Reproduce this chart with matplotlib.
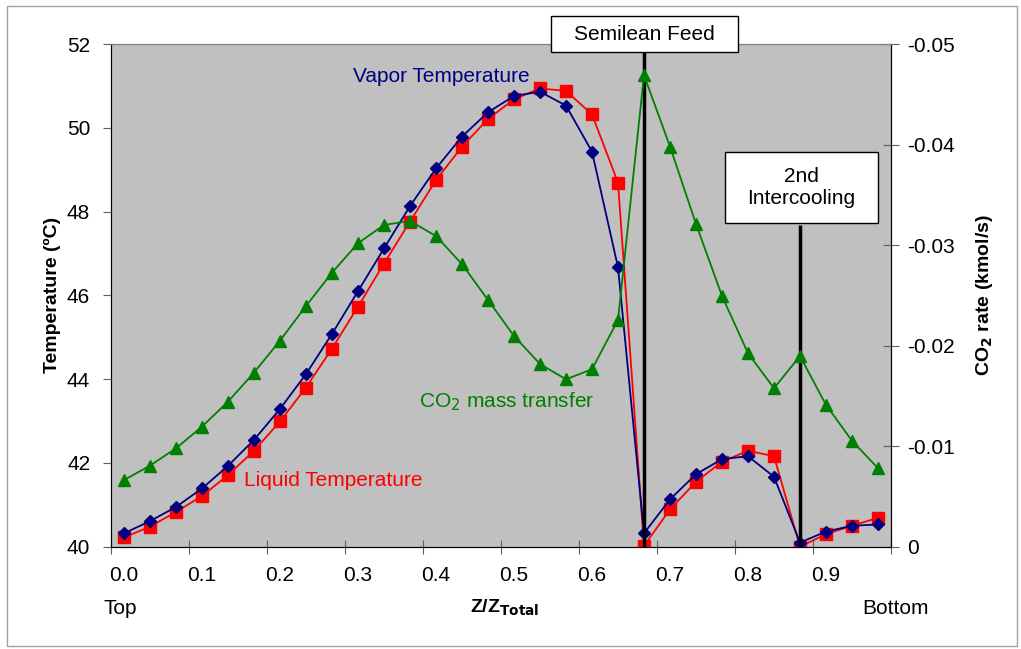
import matplotlib
matplotlib.use("Agg")
import matplotlib.pyplot as plt
from matplotlib.patches import Rectangle
import numpy as np

plt.rcParams["font.family"] = ["Liberation Sans", "DejaVu Sans"]

# stage index along the column (30 stages, Z/Ztotal = i/30)
stage = np.arange(30)
z = stage / 30.0

vapor_T = [40.32, 40.61, 40.95, 41.39, 41.93, 42.55, 43.29, 44.12, 45.08, 46.10,
           47.12, 48.13, 49.03, 49.79, 50.37, 50.76, 50.86, 50.53, 49.43, 46.67,
           40.32, 41.13, 41.73, 42.09, 42.16, 41.67, 40.10, 40.36, 40.50, 40.53]
liquid_T = [40.22, 40.48, 40.83, 41.21, 41.71, 42.29, 42.99, 43.80, 44.73, 45.73,
            46.76, 47.76, 48.75, 49.55, 50.21, 50.68, 50.94, 50.88, 50.32, 48.69,
            40.02, 40.89, 41.55, 42.03, 42.29, 42.16, 40.00, 40.30, 40.50, 40.69]
co2_rate = [-0.00663, -0.00806, -0.00979, -0.01194, -0.01443, -0.01731, -0.0205, -0.02394,
            -0.02726, -0.03018, -0.0320, -0.0324, -0.0309, -0.0281, -0.02454, -0.02096,
            -0.01817, -0.01665, -0.01765, -0.02255, -0.0469, -0.0398, -0.0321, -0.02494,
            -0.01924, -0.01576, -0.01897, -0.0141, -0.01054, -0.0078]

xtick_labels = ["0.0", "0.1", "0.2", "0.3", "0.4", "0.5", "0.6", "0.7", "0.8", "0.9"]
left_ticks = [40, 42, 44, 46, 48, 50, 52]
right_ticks = [0, -0.01, -0.02, -0.03, -0.04, -0.05]
right_labels = ["0", "-0.01", "-0.02", "-0.03", "-0.04", "-0.05"]

feed_stage = 20
intercool_stage = 26

W, H = 1021, 649
FS = 15
fig = plt.figure(figsize=(W / 100, H / 100), dpi=100)
ax = fig.add_axes([111 / W, 1 - 546.7 / H, 780 / W, 502.7 / H])
ax.set_facecolor("#C0C0C0")

# chart border
fig.patches.append(Rectangle((7 / W, 3 / H), 1010 / W, 640 / H, transform=fig.transFigure,
                             fill=False, edgecolor="#A0A0A0", lw=1))

ax.plot(z, liquid_T, color="red", marker="s", ms=8, lw=1.3, zorder=3)
ax.plot(z, vapor_T, color="#000080", marker="D", ms=6.5, lw=1.3, zorder=4)

ax.set_xlim(-0.5 / 30, 29.5 / 30)
ax.set_ylim(40, 52)
ax.set_yticks(left_ticks)
ax.set_yticklabels([str(t) for t in left_ticks], fontsize=FS)
ax.set_xticks([(3 * k - 0.5) / 30 for k in range(11)])
ax.set_xticklabels([])
ax.set_xticks([3 * k / 30 for k in range(10)], minor=True)
ax.set_xticklabels(xtick_labels, minor=True, fontsize=FS)
ax.tick_params(axis="x", which="major", direction="inout", length=10, color="#606060")
ax.tick_params(axis="x", which="minor", length=0, pad=14)
ax.tick_params(axis="y", direction="out", length=6, color="#606060", pad=9)
ax.spines["top"].set_color("#808080")
ax.spines["right"].set_color("black")

ax.set_ylabel("Temperature (ºC)", fontsize=14, fontweight="bold", labelpad=4)

ax2 = ax.twinx()
ax2.plot(z, co2_rate, color="#008000", marker="^", ms=9, lw=1.3, zorder=3)
ax2.set_ylim(0, -0.05)
ax2.set_yticks(right_ticks)
ax2.set_yticklabels(right_labels, fontsize=FS)
ax2.tick_params(axis="y", direction="inout", length=11, color="#606060", pad=6)
ax2.set_ylabel("CO$_\\mathbf{2}$ rate (kmol/s)", fontsize=14, fontweight="bold", labelpad=14)
ax2.spines["top"].set_color("#808080")

# feed / intercooling markers
for st, ytop in [(feed_stage, 51.8), (intercool_stage, 47.68)]:
    ax.plot([st / 30, st / 30], [40, ytop], color="black", lw=2.5, zorder=6,
            clip_on=False, solid_capstyle="butt")

fig.patches.append(Rectangle((551 / W, 1 - 52 / H), 187 / W, 36 / H, transform=fig.transFigure,
                             facecolor="white", edgecolor="black", lw=1, zorder=10))
fig.text(644 / W, 1 - 35 / H, "Semilean Feed", fontsize=FS, ha="center", va="center", zorder=11)
fig.patches.append(Rectangle((725 / W, 1 - 223 / H), 153 / W, 71 / H, transform=fig.transFigure,
                             facecolor="white", edgecolor="black", lw=1, zorder=10))
fig.text(801 / W, 1 - 188 / H, "2nd\nIntercooling", fontsize=FS, ha="center", va="center",
         linespacing=1.2, zorder=11)

# series labels
fig.text(441 / W, 1 - 77 / H, "Vapor Temperature", fontsize=FS, color="#000080",
         ha="center", va="center")
fig.text(333 / W, 1 - 481 / H, "Liquid Temperature", fontsize=FS, color="red",
         ha="center", va="center")
fig.text(507 / W, 1 - 402 / H, "CO$_2$ mass transfer", fontsize=FS, color="#008000",
         ha="center", va="center")

fig.text(120 / W, 1 - 608 / H, "Top", fontsize=FS, ha="center", va="center")
fig.text(895 / W, 1 - 608 / H, "Bottom", fontsize=FS, ha="center", va="center")
fig.text(505 / W, 1 - 608 / H, "Z/Z$_\\mathbf{Total}$", fontsize=14, fontweight="bold",
         ha="center", va="center")

fig.savefig("out.png", dpi=100)
